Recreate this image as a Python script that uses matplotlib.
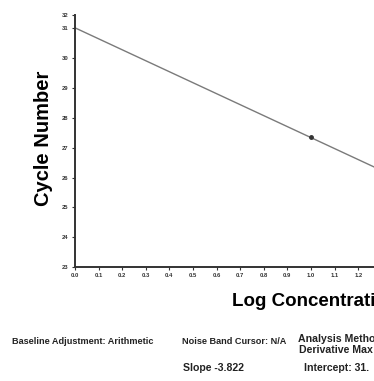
#!/usr/bin/env python

import matplotlib
matplotlib.use("Agg")
import matplotlib.pyplot as plt

# Standard curve (cycle number vs log concentration)
fit_x = [0.0, 1.35]
fit_y = [31.02, 26.05]
point_x = [1.0]
point_y = [27.35]

xticks = [0.0, 0.1, 0.2, 0.3, 0.4, 0.5, 0.6, 0.7, 0.8, 0.9, 1.0, 1.1, 1.2]
xtick_labels = ["0.0", "0.1", "0.2", "0.3", "0.4", "0.5", "0.6", "0.7",
                "0.8", "0.9", "1.0", "1.1", "1.2"]
yticks = [23, 24, 25, 26, 27, 28, 29, 30, 31, 31.45]
ytick_labels = ["23", "24", "25", "26", "27", "28", "29", "30", "31", "32"]

plt.rcParams["font.family"] = ["Liberation Sans", "DejaVu Sans"]
plt.rcParams["font.weight"] = "bold"

fig = plt.figure(figsize=(3.74, 3.81), dpi=100)
# axes run off the right edge, as in the cropped scan
ax = fig.add_axes([75 / 374, 114 / 381, 1.3 * 236 / 374, 252 / 381])

ax.plot(fit_x, fit_y, color="#7a7a7a", lw=1.0)
ax.plot(point_x, point_y, "o", color="#333333", ms=2.5)

ax.set_xlim(0, 1.3)
ax.set_ylim(23, 31.45)
ax.set_xticks(xticks)
ax.set_xticklabels(xtick_labels)
ax.set_yticks(yticks)
ax.set_yticklabels(ytick_labels)
ax.tick_params(labelsize=4.2, length=2.5, width=0.8, colors="#333333", pad=2)

for s in ["top", "right"]:
    ax.spines[s].set_visible(False)
for s in ["left", "bottom"]:
    ax.spines[s].set_linewidth(1.4)
    ax.spines[s].set_color("#333333")

ax.set_ylabel("Cycle Number", fontsize=14.5, fontweight="bold")
ax.yaxis.set_label_coords(-0.072, 0.512)
fig.text(232 / 374, 1 - 302 / 381, "Log Concentration", fontsize=13.5,
         fontweight="bold", ha="left", va="center")

small = dict(fontsize=6.6, fontweight="bold", color="#222222", va="center")
right = dict(small, fontsize=7.6)
fig.text(12 / 374, 1 - 341 / 381, "Baseline Adjustment: Arithmetic", ha="left", **small)
fig.text(182 / 374, 1 - 341 / 381, "Noise Band Cursor: N/A", ha="left", **small)
fig.text(298 / 374, 1 - 339 / 381, "Analysis Method:", ha="left", **right)
fig.text(299 / 374, 1 - 350 / 381, "Derivative Max", ha="left", **right)
fig.text(183 / 374, 1 - 368 / 381, "Slope -3.822", ha="left", **right)
fig.text(304 / 374, 1 - 368 / 381, "Intercept: 31.", ha="left", **right)

fig.savefig("out.png", dpi=100)
